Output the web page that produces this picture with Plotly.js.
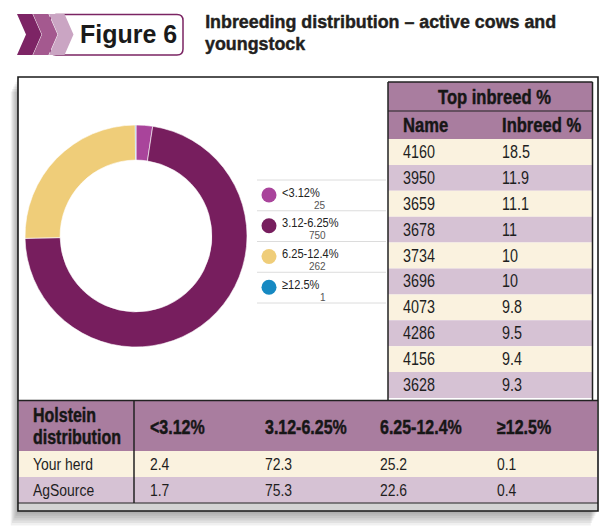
<!DOCTYPE html>
<html><head><meta charset="utf-8">
<script src="https://cdn.plot.ly/plotly-3.0.1.min.js"></script>
<style>html,body{margin:0;padding:0;background:#fff;}#chart{width:610px;height:531px;}</style>
</head><body><div id="chart"></div>
<script>
// ---------- data ----------
const categories = ['<3.12%', '3.12-6.25%', '6.25-12.4%', '≥12.5%'];
const counts = [25, 750, 262, 1];
const topNames = ['4160', '3950', '3659', '3678', '3734', '3696', '4073', '4286', '4156', '3628'];
const topInbreed = [18.5, 11.9, 11.1, 11, 10, 10, 9.8, 9.5, 9.4, 9.3];
const herdRows = ['Your herd', 'AgSource'];
const yourHerd = [2.4, 72.3, 25.2, 0.1];
const agSource = [1.7, 75.3, 22.6, 0.4];
const titleLines = ['Inbreeding distribution – active cows and', 'youngstock'];
const figureLabel = 'Figure 6';

// ---------- styles ----------
const W = 610, H = 531;
const sliceColors = ['#a9449b', '#771e5e', '#efcd79', '#1689c2'];
const SANS = '"Liberation Sans", Arial, sans-serif';
const NARROW_SCALE = 0.82;   // horizontal squeeze to mimic a condensed face
const MAUVE = '#a97d9f', CREAM = '#faf2df', LAV = '#d6c2d4', INK = '#161616';
const esc = s => String(s).replace(/</g, '&lt;');

const shapes = [];
const annotations = [];
const annScale = [];
function rect(x0, y0, x1, y1, fill, extra) {
  shapes.push(Object.assign({type: 'rect', xref: 'x', yref: 'y', x0, y0, x1, y1,
    fillcolor: fill, line: {width: 0}, layer: 'below'}, extra || {}));
}
function seg(x0, y0, x1, y1, color, width) {
  shapes.push({type: 'line', xref: 'x', yref: 'y', x0, y0, x1, y1, line: {color, width}, layer: 'above'});
}
function path(d, fill, lineSpec) {
  shapes.push({type: 'path', xref: 'x', yref: 'y', path: d, fillcolor: fill,
    line: lineSpec || {width: 0}, layer: 'above'});
}
function label(s, x, y, o) {
  o = o || {};
  annotations.push({text: s, x, y, xref: 'x', yref: 'y', showarrow: false,
    xanchor: o.xa || 'left', yanchor: 'middle', borderpad: 0, borderwidth: 0,
    font: {family: SANS, size: o.size || 17, color: o.color || INK}});
  annScale.push({s: o.scale === undefined ? NARROW_SCALE : o.scale, xa: o.xa || 'left',
    heavy: !!o.heavy, color: o.color || INK});
}

// ---------- frame + shadow ----------
const FR = {x0: 18, y0: 77, x1: 598, y1: 511};
for (let j = 6; j >= 1; j--) {
  rect(FR.x0 - 1.2 * j, FR.y0 + 2.4 * j, FR.x1 - 1.2 * j, FR.y1 + 2.4 * j, 'rgba(0,0,0,0.06)');
}
rect(FR.x0, FR.y0, FR.x1, FR.y1, '#ffffff');

// ---------- header badge ----------
(function () {
  const bx0 = 50, by0 = 14.5, bx1 = 183, by1 = 55, r = 6;
  path(`M${bx0 + r},${by0} L${bx1 - r},${by0} Q${bx1},${by0} ${bx1},${by0 + r} L${bx1},${by1 - r} Q${bx1},${by1} ${bx1 - r},${by1} L${bx0 + r},${by1} Q${bx0},${by1} ${bx0},${by1 - r} L${bx0},${by0 + r} Q${bx0},${by0} ${bx0 + r},${by0} Z`,
    '#ffffff', {color: '#7b2463', width: 1.5});
  const chevColors = ['#7d2465', '#a4598f', '#caa5c3'];
  chevColors.forEach((c, k) => {
    const x0 = 17 + 16 * k, top = 14, bot = 55, mid = 34.5, w = 15.5, d = 9;
    path(`M${x0},${top} L${x0 + w},${top} L${x0 + w + d},${mid} L${x0 + w},${bot} L${x0},${bot} L${x0 + d},${mid} Z`, c);
  });
  label('<b>' + figureLabel + '</b>', 128, 34, {xa: 'center', size: 25, color: '#1a1a1a', scale: 1});
  label('<b>' + titleLines[0] + '</b>', 205, 21.6, {size: 19, color: '#231f20', scale: 0.94, heavy: true});
  label('<b>' + titleLines[1] + '</b>', 205, 43.2, {size: 19, color: '#231f20', scale: 0.94, heavy: true});
})();

// ---------- right table ----------
const RT = {x0: 388, x1: 592.5, top: 82, h1: 29, h2: 28, row: 25.9, nameX: 403, valX: 502};
rect(RT.x0, RT.top, RT.x1, RT.top + RT.h1 + RT.h2, MAUVE);
label('<b>Top inbreed %</b>', 494, RT.top + RT.h1 / 2, {xa: 'center', size: 19.5, scale: 0.85, heavy: true});
label('<b>Name</b>', RT.nameX, RT.top + RT.h1 + RT.h2 / 2, {size: 19.5, scale: 0.85, heavy: true});
label('<b>Inbreed %</b>', RT.valX, RT.top + RT.h1 + RT.h2 / 2, {size: 19.5, scale: 0.85, heavy: true});
const dataTop = RT.top + RT.h1 + RT.h2;
topNames.forEach((n, i) => {
  const y0 = dataTop + i * RT.row;
  rect(RT.x0, y0, RT.x1, y0 + RT.row, i % 2 ? LAV : CREAM);
  label(n, RT.nameX, y0 + RT.row / 2, {size: 17.5, color: '#1e1e1e'});
  label(String(topInbreed[i]), RT.valX, y0 + RT.row / 2, {size: 17.5, color: '#1e1e1e'});
});
const rtBottom = 400.5;
seg(RT.x0, RT.top, RT.x0, rtBottom, '#222', 1.5);
seg(RT.x1, RT.top, RT.x1, rtBottom, '#222', 1.5);
seg(RT.x0, RT.top, RT.x1, RT.top, '#222', 1.5);
seg(RT.x0, RT.top + RT.h1, RT.x1, RT.top + RT.h1, '#222', 1.2);

// ---------- bottom table ----------
const BT = {x0: 19, x1: 597, top: 401, hh: 50, row: 26, colX: [33, 150, 265, 380, 497], divX: 134};
rect(BT.x0, BT.top, BT.x1, BT.top + BT.hh, MAUVE);
label('<b>Holstein</b>', BT.colX[0], BT.top + 13.5, {size: 19.5, heavy: true});
label('<b>distribution</b>', BT.colX[0], BT.top + 35.5, {size: 19.5, heavy: true});
categories.forEach((c, j) => label('<b>' + esc(c) + '</b>', BT.colX[j + 1], BT.top + BT.hh / 2 + 1, {size: 19.5, heavy: true}));
const rowVals = [yourHerd, agSource];
herdRows.forEach((r, i) => {
  const y0 = BT.top + BT.hh + i * BT.row;
  rect(BT.x0, y0, BT.x1, y0 + BT.row, i % 2 ? LAV : CREAM);
  label(r, BT.colX[0], y0 + BT.row / 2, {size: 17, color: '#1e1e1e'});
  rowVals[i].forEach((v, j) => label(String(v), BT.colX[j + 1], y0 + BT.row / 2, {size: 17, color: '#1e1e1e'}));
});
const btBottom = BT.top + BT.hh + herdRows.length * BT.row;
rect(BT.x0, btBottom, BT.x1, FR.y1, '#d3d3d3');
seg(FR.x0, rtBottom, FR.x1, rtBottom, '#222', 1.5);
seg(BT.divX, rtBottom, BT.divX, btBottom, '#222', 1.5);
seg(FR.x0, btBottom, FR.x1, btBottom, '#222', 1.2);

// outer frame border on top
shapes.push({type: 'rect', xref: 'x', yref: 'y', x0: FR.x0, y0: FR.y0, x1: FR.x1, y1: FR.y1,
  line: {color: '#1a1a1a', width: 1.6}, fillcolor: 'rgba(0,0,0,0)', layer: 'above'});

// ---------- legend ----------
const LG = {x0: 257, x1: 387, top: 180, step: 30.75, dotX: 269, labelX: 282, valueX: 326};
for (let i = 0; i <= categories.length; i++) {
  seg(LG.x0, LG.top + i * LG.step, LG.x1 - 1, LG.top + i * LG.step, '#dcdcdc', 1);
}
categories.forEach((c, i) => {
  const t = LG.top + i * LG.step;
  label(esc(c), LG.labelX, t + 12, {size: 13.5, color: '#222'});
  label(String(counts[i]), LG.valueX, t + 25, {xa: 'right', size: 10, color: '#555', scale: 1});
});

// ---------- traces ----------
const PIE = {cx: 136, cy: 236, r: 111};
const pie = {
  type: 'pie', labels: categories, values: counts, sort: false, direction: 'clockwise', rotation: 0,
  hole: 0.684, textinfo: 'none', hoverinfo: 'label+value',
  marker: {colors: sliceColors, line: {color: '#ffffff', width: 0.6}},
  domain: {x: [(PIE.cx - PIE.r) / W, (PIE.cx + PIE.r) / W], y: [1 - (PIE.cy + PIE.r) / H, 1 - (PIE.cy - PIE.r) / H]}
};
const legendDots = {
  type: 'scatter', mode: 'markers', xaxis: 'x', yaxis: 'y', hoverinfo: 'skip',
  x: categories.map(() => LG.dotX),
  y: categories.map((_, i) => LG.top + i * LG.step + 15),
  marker: {size: 15, color: sliceColors, line: {width: 0}}
};

const layout = {
  width: W, height: H, margin: {l: 0, r: 0, t: 0, b: 0}, showlegend: false,
  paper_bgcolor: '#ffffff', plot_bgcolor: 'rgba(0,0,0,0)',
  xaxis: {range: [0, W], visible: false, fixedrange: true, domain: [0, 1]},
  yaxis: {range: [H, 0], visible: false, fixedrange: true, domain: [0, 1]},
  shapes, annotations
};
Plotly.newPlot('chart', [legendDots, pie], layout, {displayModeBar: false, staticPlot: true}).then(gd => {
  // squeeze annotation text horizontally about its anchor to imitate a condensed typeface
  annScale.forEach((a, i) => {
    const t = gd.querySelector(`g.annotation[data-index="${i}"] text.annotation-text`);
    if (!t) return;
    if (a.heavy) {
      t.style.stroke = a.color;
      t.style.strokeWidth = '0.45px';
      t.style.strokeLinejoin = 'round';
    }
    if (a.s === 1) return;
    const b = t.getBBox();
    const ax = a.xa === 'left' ? b.x : a.xa === 'right' ? b.x + b.width : b.x + b.width / 2;
    t.setAttribute('transform', `translate(${ax},0) scale(${a.s},1) translate(${-ax},0)`);
  });
});
</script>
</body></html>
